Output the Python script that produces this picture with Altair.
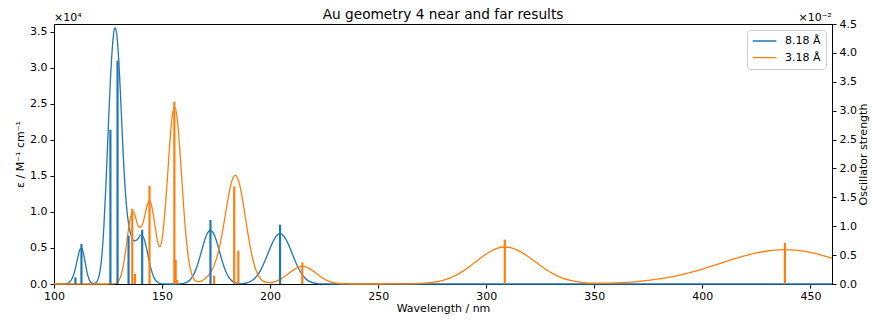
import altair as alt
import pandas as pd

# Broadened absorption spectra: wavelength (nm) and molar absorptivity (M^-1 cm^-1)
near_wl = [100, 102, 104, 105, 106, 107, 108, 109, 110, 111,
           112, 112.7, 113, 114, 115, 116, 117, 118, 119, 120,
           121, 122, 123, 124, 125, 126, 127, 128, 128.4,
           129, 130, 131, 132, 133, 134, 135, 136, 137, 138, 139, 140,
           141, 142, 143, 144, 145, 146, 147, 148, 149, 150, 151, 152,
           154, 156, 158, 160, 162,
           163, 164, 165, 166, 167, 168, 169, 170, 171, 172, 172.4,
           173, 174, 175, 176, 177, 178, 179, 180, 181, 182,
           184, 186, 188, 190, 192, 194, 196, 198, 200, 202, 204, 204.6,
           206, 208, 210, 212, 214, 216, 218, 220, 222, 224, 226, 230, 460]
near_eps = [0, 0, 2, 11, 56, 202, 551, 1212, 2269, 3649,
            4795, 4996, 4874, 3695, 2053, 830, 247, 74, 113, 413,
            1318, 3458, 7497, 13556, 20789, 27674, 32797, 35450, 35560,
            34750, 30916, 24796, 18209, 12893, 9474, 7543, 6465, 6000, 6050, 6350, 6750,
            6700, 5950, 4700, 3257, 1995, 1072, 505, 208, 75, 24, 7, 2,
            0, 3, 19, 90, 334,
            589, 981, 1545, 2297, 3224, 4272, 5345, 6314, 7042, 7416, 7450,
            7373, 6922, 6135, 5134, 4057, 3026, 2131, 1418, 890, 528,
            156, 64, 92, 231, 549, 1155, 2137, 3478, 4980, 6273, 6950, 6990,
            6774, 5809, 4381, 2907, 1696, 871, 394, 156, 55, 17, 5, 0, 0]

far_wl = [100, 124, 126, 128, 129, 130, 131, 132, 133, 134,
          135, 136, 136.6, 137, 138, 139, 140, 141, 142, 143,
          144, 144.2, 145, 146, 147, 148, 149, 150, 151, 152,
          153, 154, 155, 156, 157, 158, 159, 160, 161, 162,
          163, 164, 165, 166, 167, 168, 169, 170, 172, 174,
          176, 177, 178, 179, 180, 181, 182, 183, 184, 185,
          186, 187, 188, 189, 190, 191, 192, 193, 194, 195,
          196, 198, 200, 202, 204, 206, 208, 210, 212, 214,
          215, 216, 218, 220, 222, 224, 226, 228, 230, 232,
          234, 236, 240, 250, 260, 265, 270, 275, 280, 285,
          290, 295, 300, 305, 308.6, 312, 316, 320, 325, 330,
          335, 340, 345, 350, 355, 360, 365, 370, 375, 380,
          385, 390, 395, 400, 405, 410, 415, 420, 425, 430,
          435, 438.2, 440, 445, 450, 455, 460]
far_eps = [0, 0, 4, 57, 181, 500, 1189, 2439, 4309, 6563,
           8639, 9870, 10000, 9901, 8977, 8000, 7880, 8300, 9500, 10793,
           11560, 11600, 11079, 9536, 7542, 5800, 5150, 6200, 8891, 12647,
           16986, 21190, 23890, 24545, 22960, 19570, 15180, 10740, 6920, 4070,
           2200, 1110, 565, 350, 320, 395, 554, 770, 1417, 2516,
           4409, 5744, 7329, 9094, 10908, 12599, 13970, 14843, 15090, 14684,
           13658, 12143, 10318, 8385, 6515, 4839, 3437, 2335, 1517, 943,
           589, 243, 196, 311, 547, 894, 1327, 1785, 2174, 2400,
           2430, 2400, 2174, 1785, 1327, 894, 546, 302, 151, 69,
           28, 10, 0, 0, 6, 24, 76, 211, 508, 1063,
           1931, 3046, 4170, 4955, 5140, 4989, 4464, 3677, 2570, 1580,
           853, 425, 204, 120, 114, 155, 228, 341, 495, 698,
           957, 1275, 1652, 2082, 2548, 3033, 3508, 3945, 4312, 4582,
           4732, 4760, 4751, 4631, 4382, 4024, 3588]

# Stick spectra: excitation wavelength (nm) and oscillator strength
near_stick_wl = [109.9, 112.7, 126.1, 129.4, 134.5, 140.8, 172.4, 204.6]
near_stick_f = [0.00114, 0.00692, 0.0267, 0.03865, 0.00836, 0.0094, 0.0111, 0.01026]
far_stick_wl = [136.2, 137.5, 144.2, 155.7, 156.3, 157.0, 174.1, 183.4, 185.3, 214.9, 308.6, 438.2]
far_stick_f = [0.01303, 0.00178, 0.0170, 0.03155, 0.0042, 0.0007, 0.00144, 0.01689, 0.00576,
               0.00374, 0.00767, 0.0071]

series_labels = ["8.18 Å", "3.18 Å"]
series_colors = ["#1f77b4", "#ff7f0e"]
x_ticks = [100, 150, 200, 250, 300, 350, 400, 450]
eps_ticks = [0, 5000, 10000, 15000, 20000, 25000, 30000, 35000]
osc_ticks = [0.0, 0.005, 0.01, 0.015, 0.02, 0.025, 0.03, 0.035, 0.04, 0.045]
title_text = "Au geometry 4 near and far results"

FONT = "DejaVu Sans"
PLOT_W, PLOT_H = 778, 260

x_scale = alt.Scale(domain=[100, 460], nice=False, zero=False)
eps_scale = alt.Scale(domain=[0, 36100], nice=False)
osc_scale = alt.Scale(domain=[0, 0.045], nice=False)
color_scale = alt.Scale(domain=series_labels, range=series_colors)

x_axis = alt.Axis(values=x_ticks, title="Wavelength / nm", format="d",
                  labelFlush=False, labelPadding=2, titlePadding=1)
eps_axis = alt.Axis(values=eps_ticks, title="ε / M⁻¹ cm⁻¹",
                    labelExpr="format(datum.value / 10000, '.1f')",
                    labelPadding=3, titleX=-34, titleY=PLOT_H / 2,
                    titleAngle=270, titleAlign="center", titleBaseline="middle")
osc_axis = alt.Axis(orient="right", values=osc_ticks, title="Oscillator strength",
                    labelExpr="format(datum.value * 100, '.1f')",
                    labelPadding=3, titleX=31, titleY=PLOT_H / 2,
                    titleAngle=270, titleAlign="center", titleBaseline="middle")

legend = alt.Legend(title=None, orient="top-right", offset=6, symbolType="stroke",
                    symbolSize=560, symbolStrokeWidth=1.3, labelFont=FONT,
                    labelFontSize=11, labelColor="black", labelOffset=8,
                    padding=5, clipHeight=12, rowPadding=4.7,
                    strokeColor="#cccccc", fillColor="white", cornerRadius=3)


def curve(wl, eps, label):
    df = pd.DataFrame({"wavelength": wl, "eps": eps, "series": label})
    return alt.Chart(df).mark_line(strokeWidth=1.3, interpolate="monotone").encode(
        x=alt.X("wavelength:Q", scale=x_scale, axis=x_axis),
        y=alt.Y("eps:Q", scale=eps_scale, axis=eps_axis),
        color=alt.Color("series:N", scale=color_scale, sort=series_labels, legend=legend),
    )


def sticks(wl, f, colour):
    df = pd.DataFrame({"wavelength": wl, "f": f})
    return alt.Chart(df).mark_rule(strokeWidth=2.2, color=colour).encode(
        x=alt.X("wavelength:Q", scale=x_scale, axis=x_axis),
        y=alt.Y("f:Q", scale=osc_scale, axis=osc_axis),
        y2=alt.datum(0),
    )


def label(text, xpos, ypos, align, size):
    return alt.Chart(alt.Data(values=[{}])).mark_text(
        text=text, align=align, baseline="alphabetic", font=FONT, fontSize=size, color="black"
    ).encode(x=alt.value(xpos), y=alt.value(ypos))


curves = alt.layer(
    curve(near_wl, near_eps, series_labels[0]),
    curve(far_wl, far_eps, series_labels[1]),
)
stick_layer = alt.layer(
    sticks(near_stick_wl, near_stick_f, series_colors[0]),
    sticks(far_stick_wl, far_stick_f, series_colors[1]),
)

chart = (
    alt.layer(
        curves,
        stick_layer,
        label("×10⁴", 0, -3, "left", 11),
        label("×10⁻²", PLOT_W, -3, "right", 11),
        label(title_text, PLOT_W / 2, -4.7, "center", 13.7),
    )
    .resolve_scale(y="independent")
    .properties(
        width=PLOT_W,
        height=PLOT_H,
        autosize=alt.AutoSizeParams(type="none"),
        padding={"left": 54, "top": 24, "right": 40, "bottom": 36},
    )
    .configure_view(stroke="black", strokeWidth=1)
    .configure_axis(grid=False, domainColor="black", tickColor="black",
                    labelColor="black", titleColor="black", labelFont=FONT,
                    titleFont=FONT, labelFontSize=11, titleFontSize=11,
                    titleFontWeight="normal", tickSize=4, domainWidth=1,
                    tickWidth=1, zindex=1)
)

chart.save("out.html", embed_options={"renderer": "svg", "actions": False})
